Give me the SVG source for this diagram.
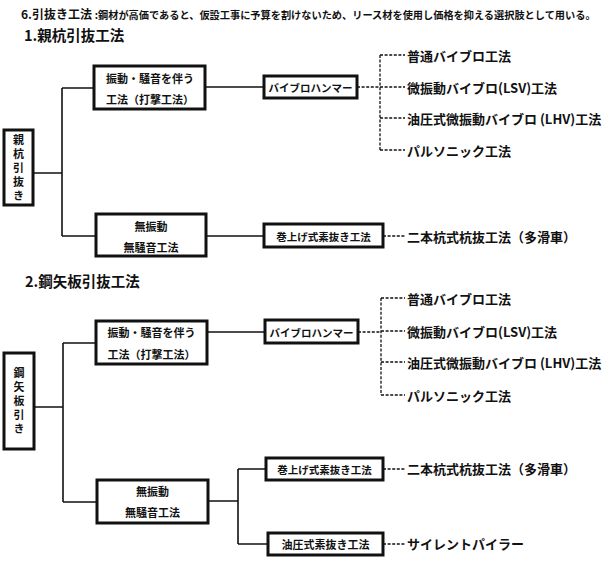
<svg xmlns="http://www.w3.org/2000/svg" width="616" height="573" viewBox="0 0 616 573">
<defs>
<style>
text{font-family:"Noto Sans CJK JP","Noto Sans",sans-serif;fill:#111;dominant-baseline:central;font-weight:bold}
.box{fill:#fff;stroke:#111;stroke-width:3}
.ln{fill:none;stroke:#111;stroke-width:1.6}
.ds{fill:none;stroke:#111;stroke-width:1.3;stroke-dasharray:3 1.6}
.bt{font-size:11px;text-anchor:middle}
.st{font-size:10.5px;text-anchor:middle}
.lb{font-size:13px}
.vt{font-size:11px;text-anchor:middle;writing-mode:vertical-rl;letter-spacing:3px}
.h1{font-size:14.5px}
</style>
</defs>
<rect width="616" height="573" fill="#fff"/>
<text x="21" y="13.5" style="font-size:12px">6.引抜き工法 <tspan style="font-size:10.2px">:鋼材が高価であると、仮設工事に予算を割けないため、リース材を使用し価格を抑える選択肢として用いる。</tspan></text>
<text class="h1" x="24" y="34.5">1.親杭引抜工法</text>
<text class="h1" x="25" y="280">2.鋼矢板引抜工法</text>

<g id="connectors">
<path class="ln" d="M33 173H62M62 88V236M62 88H94M62 236H96M205 87H264M206 236H264"/>
<path class="ds" d="M357 87H380M380 55V150M380 55H405M380 87H405M380 118H405M380 150H405M383 236H405"/>
<path class="ln" d="M34 407H63M63 343V502M63 343H96M63 502H97M207 332H265M208 501H238M238 469V544M238 469H266M238 544H268"/>
<path class="ds" d="M358 332H381M381 298V395M381 298H405M381 331H405M381 362H405M381 395H405M383 469H405M383 544H405"/>
</g>

<g id="s1-root"><rect class="box" x="4" y="130" width="29" height="75"/>
<text class="vt" x="18.5" y="169.5">親杭引抜き</text></g>
<g id="s1-vib"><rect class="box" x="94" y="66" width="111" height="43"/>
<text class="bt" x="150" y="78">振動・騒音を伴う</text><text class="bt" x="150" y="99">工法（打撃工法）</text></g>
<g id="s1-novib"><rect class="box" x="96" y="214" width="110" height="42"/>
<text class="bt" x="151" y="226">無振動</text><text class="bt" x="151" y="247">無騒音工法</text></g>
<g id="s1-hammer"><rect class="box" x="264" y="76" width="93" height="22"/>
<text class="st" x="310.5" y="87">バイブロハンマー</text></g>
<g id="s1-winch"><rect class="box" x="264" y="224" width="119" height="23"/>
<text class="st" x="323.5" y="236">巻上げ式素抜き工法</text></g>
<g id="s1-labels">
<text class="lb" x="407" y="55">普通バイブロ工法</text>
<text class="lb" x="407" y="87">微振動バイブロ(LSV)工法</text>
<text class="lb" x="407" y="118">油圧式微振動バイブロ (LHV)工法</text>
<text class="lb" x="407" y="150">パルソニック工法</text>
<text class="lb" x="407" y="236">二本杭式杭抜工法（多滑車）</text>
</g>

<g id="s2-root"><rect class="box" x="4" y="353" width="30" height="96"/>
<text class="vt" x="19" y="402.5">鋼矢板引き</text></g>
<g id="s2-vib"><rect class="box" x="96" y="321" width="111" height="43"/>
<text class="bt" x="151.5" y="332">振動・騒音を伴う</text><text class="bt" x="151.5" y="354">工法（打撃工法）</text></g>
<g id="s2-novib"><rect class="box" x="97" y="480" width="111" height="43"/>
<text class="bt" x="152.5" y="491">無振動</text><text class="bt" x="152.5" y="512">無騒音工法</text></g>
<g id="s2-hammer"><rect class="box" x="265" y="320" width="93" height="23"/>
<text class="st" x="311.5" y="332">バイブロハンマー</text></g>
<g id="s2-winch"><rect class="box" x="266" y="458" width="117" height="22"/>
<text class="st" x="324.5" y="469">巻上げ式素抜き工法</text></g>
<g id="s2-hyd"><rect class="box" x="268" y="533" width="115" height="22"/>
<text class="bt" x="325.5" y="544">油圧式素抜き工法</text></g>
<g id="s2-labels">
<text class="lb" x="407" y="298">普通バイブロ工法</text>
<text class="lb" x="407" y="331">微振動バイブロ(LSV)工法</text>
<text class="lb" x="407" y="362">油圧式微振動バイブロ (LHV)工法</text>
<text class="lb" x="407" y="395">パルソニック工法</text>
<text class="lb" x="407" y="468">二本杭式杭抜工法（多滑車）</text>
<text class="lb" x="407" y="543">サイレントパイラー</text>
</g>
</svg>
